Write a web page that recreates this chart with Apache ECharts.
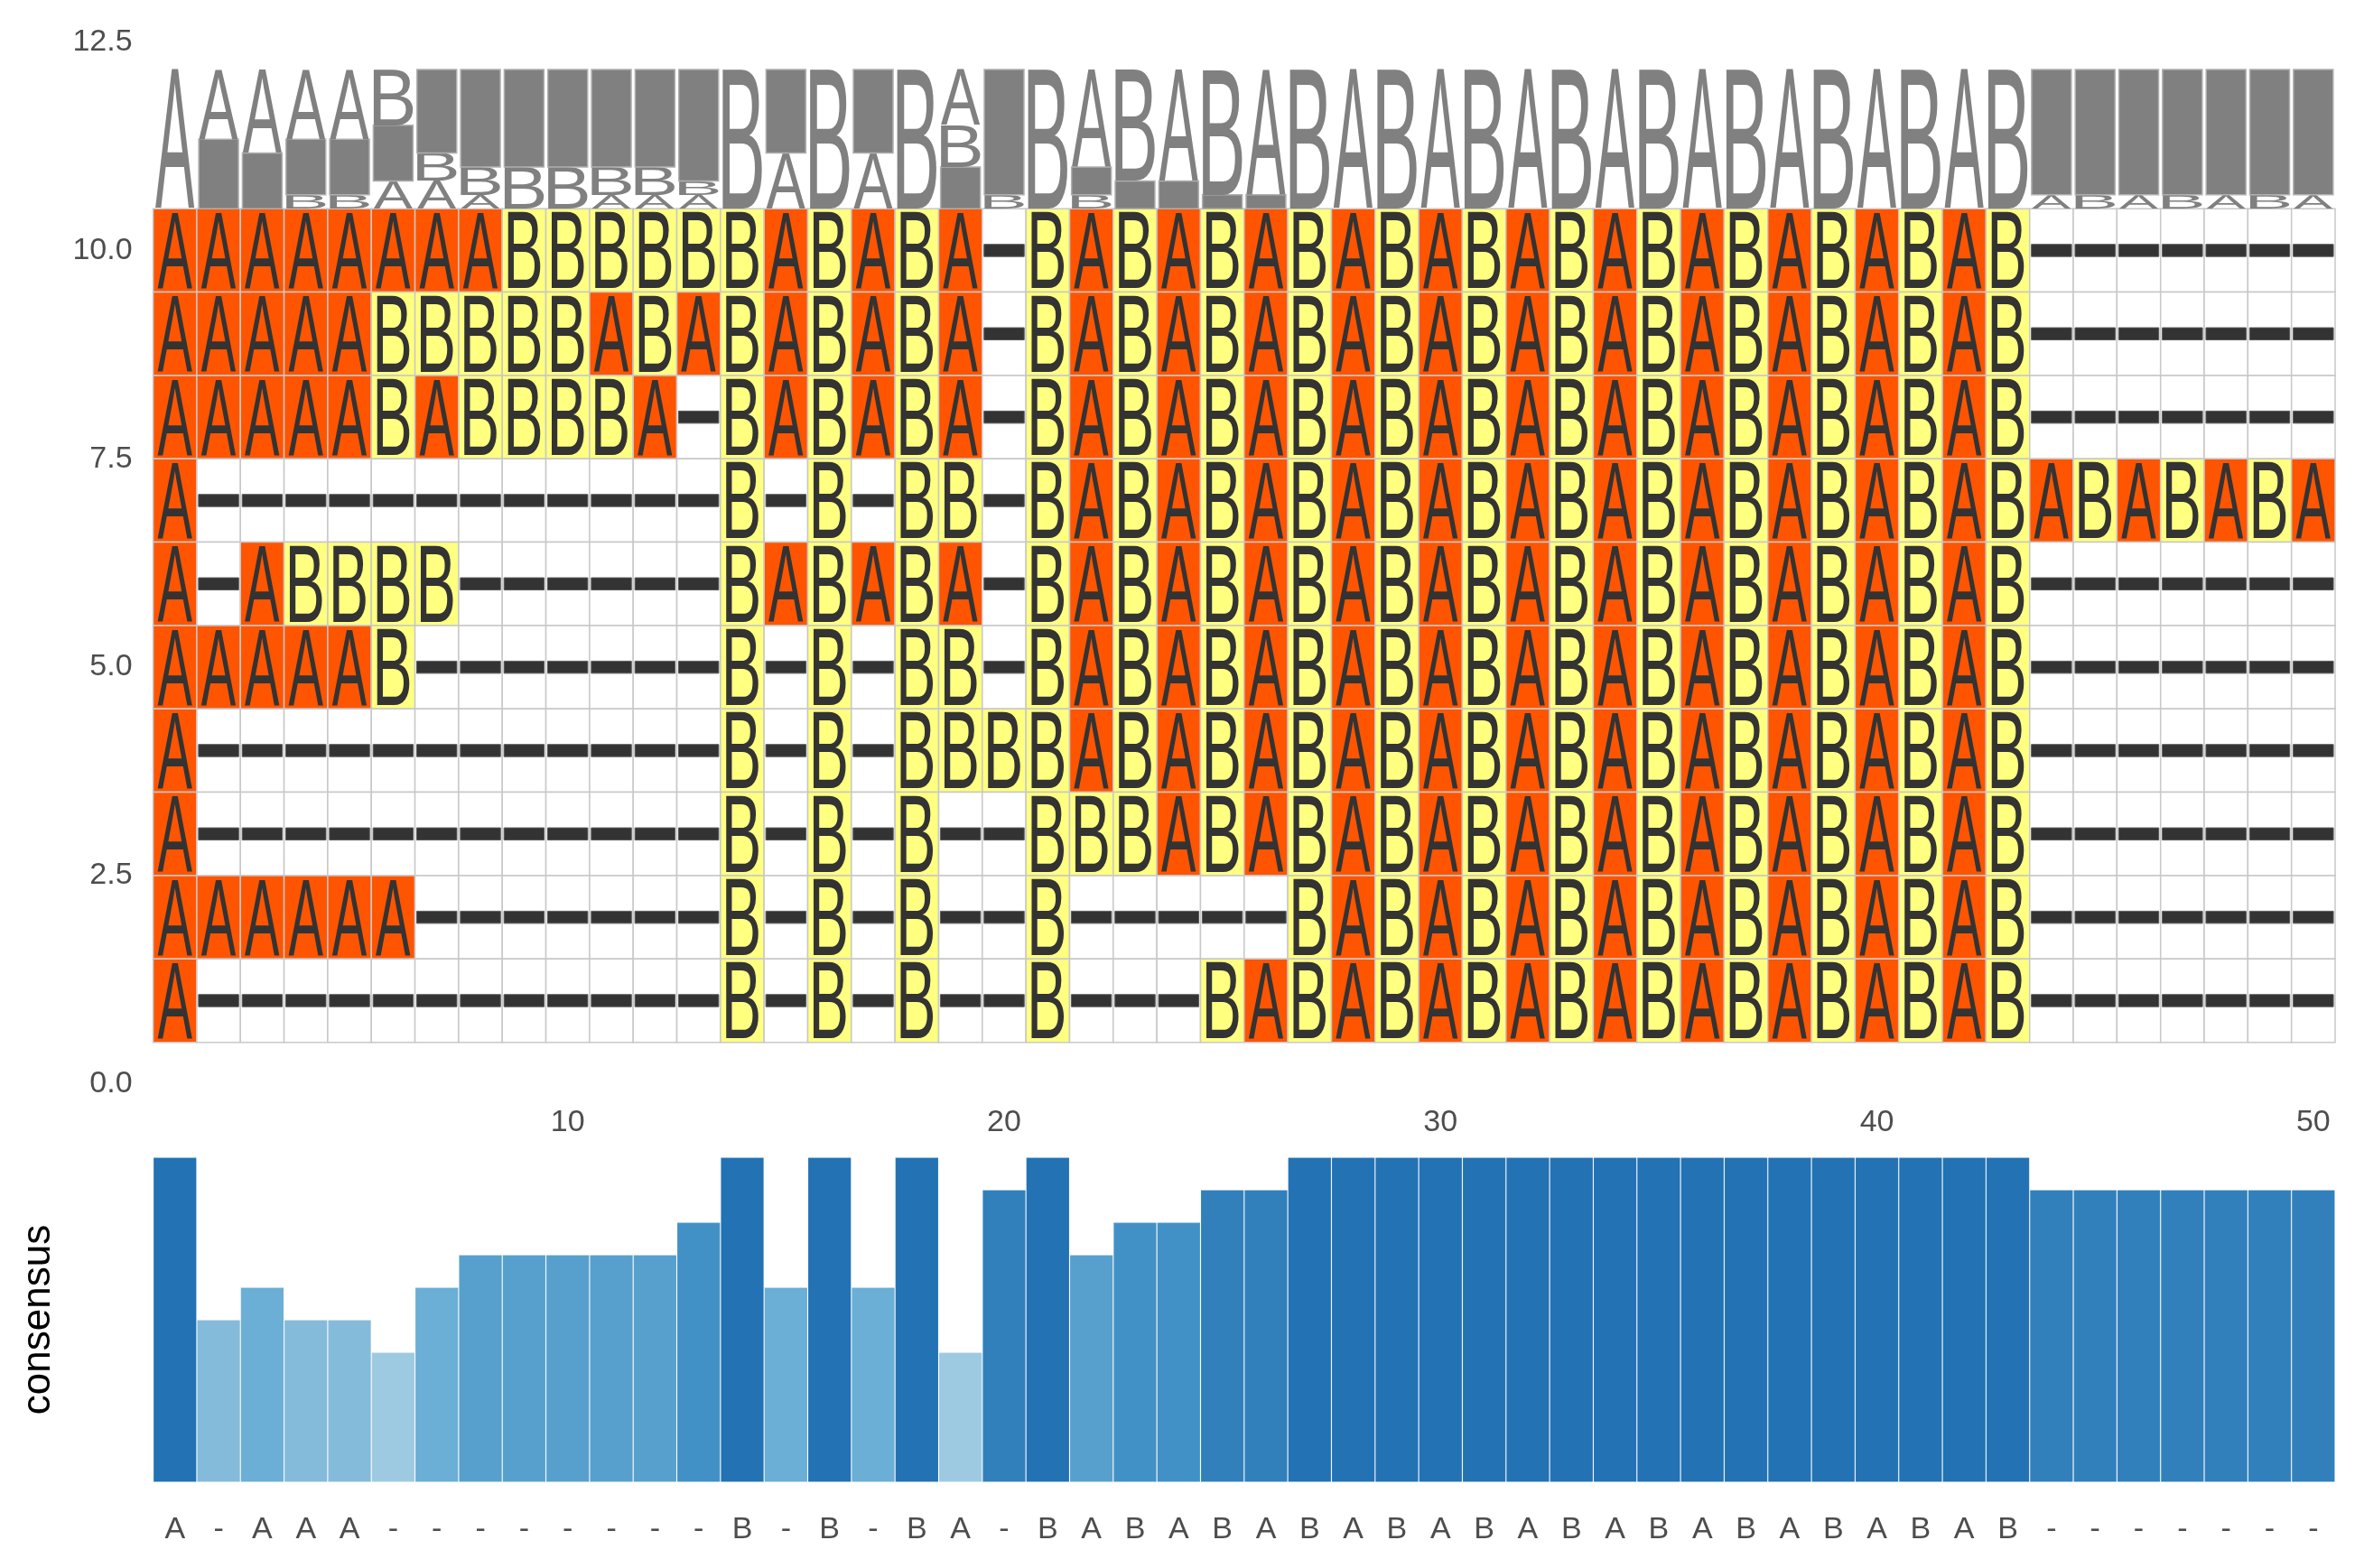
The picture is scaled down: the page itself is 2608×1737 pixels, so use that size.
<!DOCTYPE html>
<html>
<head>
<meta charset="utf-8">
<script src="https://cdn.jsdelivr.net/npm/echarts@6/dist/echarts.min.js"></script>
<style>
html,body{margin:0;padding:0;background:#ffffff;}
#chart{width:2608px;height:1737px;}
</style>
</head>
<body>
<div id="chart"></div>
<script>
// ---------------- data ----------------
const positions = [1,2,3,4,5,6,7,8,9,10,11,12,13,14,15,16,17,18,19,20,21,22,23,24,25,
  26,27,28,29,30,31,32,33,34,35,36,37,38,39,40,41,42,43,44,45,46,47,48,49,50];

// sequence rows, top (y = 10) to bottom (y = 1)
const rowIds = [10, 9, 8, 7, 6, 5, 4, 3, 2, 1];
const sequences = [
  "AAAAAAAABBBBBBABABA-" + "BABABABABABABABABABABAB" + "-------",
  "AAAAABBBBBABABABABA-" + "BABABABABABABABABABABAB" + "-------",
  "AAAAABABBBBA-BABABA-" + "BABABABABABABABABABABAB" + "-------",
  "A------------B-B-BB-" + "BABABABABABABABABABABAB" + "ABABABA",
  "A-ABBBB------BABABA-" + "BABABABABABABABABABABAB" + "-------",
  "AAAAAB-------B-B-BB-" + "BABABABABABABABABABABAB" + "-------",
  "A------------B-B-BBB" + "BABABABABABABABABABABAB" + "-------",
  "A------------B-B-B--" + "BBBABABABABABABABABABAB" + "-------",
  "AAAAAA-------B-B-B--" + "B-----BABABABABABABABAB" + "-------",
  "A------------B-B-B--" + "B---BABABABABABABABABAB" + "-------"
];

// consensus character and its frequency per position
const consensusChars = ("A-AAA--------B-B-BA-" + "BABABABABABABABABABABAB" + "-------").split("");
const consensusFreq = [1.0,0.5,0.6,0.5,0.5,0.4,0.6,0.7,0.7,0.7,0.7,0.7,0.8,1.0,0.6,1.0,0.6,1.0,0.4,0.9,
  1.0,0.7,0.8,0.8,0.9,0.9,1.0,1.0,1.0,1.0,1.0,1.0,1.0,1.0,1.0,1.0,1.0,1.0,1.0,1.0,
  1.0,1.0,1.0,0.9,0.9,0.9,0.9,0.9,0.9,0.9];

const yTicks = [0, 2.5, 5, 7.5, 10, 12.5];

// ---------------- styling ----------------
const FONT = 'Liberation Sans';
const cellColors = { 'A': '#FF5500', 'B': '#FFFF80', '-': '#FFFFFF' };
const LOGO_BASE = 10.5, LOGO_HEIGHT = 1.67;

// glyph metrics for stretching letters to fill a box
const mctx = document.createElement('canvas').getContext('2d');
const BASE = 200;
const metricCache = {};
function metrics(ch) {
  if (!metricCache[ch]) {
    mctx.font = BASE + 'px ' + FONT;
    mctx.textAlign = 'center';
    mctx.textBaseline = 'middle';
    const m = mctx.measureText(ch);
    metricCache[ch] = { l: m.actualBoundingBoxLeft, r: m.actualBoundingBoxRight,
                        a: m.actualBoundingBoxAscent, d: m.actualBoundingBoxDescent };
  }
  return metricCache[ch];
}
function fittedGlyph(ch, cx, cy, w, h, fill) {
  const m = metrics(ch);
  const gw = Math.max(1, m.l + m.r), gh = Math.max(1, m.a + m.d);
  const sx = w / gw, sy = h / gh;
  return {
    type: 'text',
    x: cx - sx * (m.r - m.l) / 2,
    y: cy - sy * (m.d - m.a) / 2,
    scaleX: sx, scaleY: sy,
    silent: true,
    style: { text: ch, x: 0, y: 0, fontSize: BASE, fontFamily: FONT, fill: fill,
             align: 'center', verticalAlign: 'middle' }
  };
}

// data for the custom series, built from the arrays above
const cellData = [];
sequences.forEach((s, r) => {
  positions.forEach((p) => { cellData.push([p, rowIds[r], r]); });
});
const logoData = positions.map(p => [p, LOGO_BASE]);

function renderCell(params, api) {
  const col = api.value(0), row = api.value(1), si = api.value(2);
  const ch = sequences[si][col - 1];
  const tl = api.coord([col - 0.5, row + 0.5]);
  const br = api.coord([col + 0.5, row - 0.5]);
  const w = br[0] - tl[0], h = br[1] - tl[1];
  const cx = (tl[0] + br[0]) / 2, cy = (tl[1] + br[1]) / 2;
  const children = [{
    type: 'rect', silent: true,
    shape: { x: tl[0], y: tl[1], width: w, height: h },
    style: { fill: cellColors[ch], stroke: '#C8C8C8', lineWidth: 1.5 }
  }];
  if (ch === '-') {
    children.push({
      type: 'rect', silent: true,
      shape: { x: cx - w * 0.46, y: cy - h * 0.073, width: w * 0.92, height: h * 0.146 },
      style: { fill: '#333333', stroke: '#5a5a5a', lineWidth: 1 }
    });
  } else {
    children.push(fittedGlyph(ch, cx, cy, w * (ch === 'A' ? 0.80 : 0.74), h * 0.91, '#333333'));
  }
  return { type: 'group', children: children };
}

function renderLogo(params, api) {
  const col = api.value(0);
  const counts = {};
  sequences.forEach(s => { const c = s[col - 1]; counts[c] = (counts[c] || 0) + 1; });
  const items = Object.keys(counts)
    .map(k => ({ ch: k, f: counts[k] / sequences.length }))
    .sort((a, b) => (a.f - b.f) || (a.ch.charCodeAt(0) - b.ch.charCodeAt(0)));
  let base = api.value(1);
  const children = [];
  items.forEach(it => {
    const y0 = base, y1 = base + it.f * LOGO_HEIGHT;
    const tl = api.coord([col - 0.5, y1]);
    const br = api.coord([col + 0.5, y0]);
    const w = br[0] - tl[0], h = br[1] - tl[1];
    const cx = (tl[0] + br[0]) / 2, cy = (tl[1] + br[1]) / 2;
    if (it.ch === '-') {
      children.push({
        type: 'rect', silent: true,
        shape: { x: cx - w * 0.455, y: tl[1], width: w * 0.91, height: h },
        style: { fill: '#808080', stroke: '#B0B0B0', lineWidth: 1.5 }
      });
    } else {
      children.push(fittedGlyph(it.ch, cx, cy, w * 0.9, h, '#808080'));
    }
    base = y1;
  });
  return { type: 'group', children: children };
}

const labelStyle = { fontFamily: FONT, fontSize: 34, color: '#4D4D4D' };

const chart = echarts.init(document.getElementById('chart'), null, { renderer: 'canvas' });
chart.setOption({
  animation: false,
  backgroundColor: '#ffffff',
  grid: [
    { left: 169.6, right: 22, top: 46.6, height: 1154.2, outerBoundsMode: 'none' },
    { left: 169.6, right: 22, top: 1282, height: 360, outerBoundsMode: 'none' }
  ],
  xAxis: [
    { type: 'value', gridIndex: 0, min: 0.5, max: 50.5, show: false },
    { type: 'category', gridIndex: 1, position: 'top', data: positions, boundaryGap: true,
      axisLine: { show: false }, axisTick: { show: false }, splitLine: { show: false },
      axisLabel: Object.assign({ margin: 21, interval: (i, v) => Number(v) % 10 === 0 }, labelStyle) },
    { type: 'category', gridIndex: 1, position: 'bottom', data: consensusChars, boundaryGap: true,
      axisLine: { show: false }, axisTick: { show: false }, splitLine: { show: false },
      axisLabel: Object.assign({ margin: 36, interval: 0 }, labelStyle) }
  ],
  yAxis: [
    { type: 'value', gridIndex: 0, min: 0, max: 12.5, interval: 2.5,
      axisLine: { show: false }, axisTick: { show: false }, splitLine: { show: false },
      axisLabel: Object.assign({ margin: 23, formatter: v => Number(v).toFixed(1),
        customValues: yTicks }, labelStyle) },
    { type: 'value', gridIndex: 1, min: 0, max: 1,
      name: 'consensus', nameLocation: 'middle', nameRotate: 90, nameGap: 105,
      nameTextStyle: { fontFamily: FONT, fontSize: 44, color: '#000000' },
      axisLine: { show: false }, axisTick: { show: false }, splitLine: { show: false },
      axisLabel: { show: false } }
  ],
  visualMap: {
    type: 'continuous', show: false, seriesIndex: 2, dimension: 1,
    min: 0.4, max: 1.0,
    inRange: { color: ['#9ECAE1', '#85BBDA', '#6BAED6', '#57A0CD', '#4191C6', '#3180BC', '#2272B4'] }
  },
  series: [
    { type: 'custom', name: 'alignment', xAxisIndex: 0, yAxisIndex: 0,
      data: cellData, renderItem: renderCell, silent: true },
    { type: 'custom', name: 'logo', xAxisIndex: 0, yAxisIndex: 0,
      data: logoData, renderItem: renderLogo, silent: true },
    { type: 'bar', name: 'consensus', xAxisIndex: 1, yAxisIndex: 1,
      data: consensusFreq, barCategoryGap: '0%',
      itemStyle: { borderColor: 'rgba(255,255,255,0.12)', borderWidth: 1 } }
  ]
});
</script>
</body>
</html>
